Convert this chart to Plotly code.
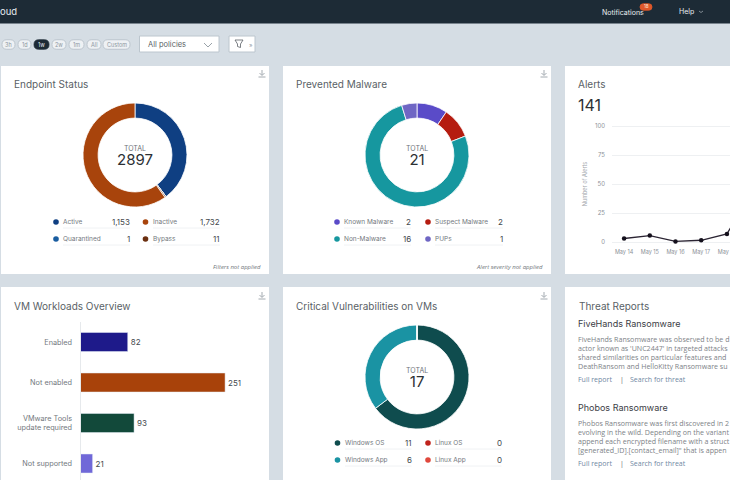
import plotly.graph_objects as go

W, H = 730, 480

# donut data
endpoint_labels = ["Active", "Quarantined", "Bypass", "Inactive"]
endpoint_values = [1153, 1, 11, 1732]
endpoint_colors = ["#0f3f82", "#1a5da0", "#6b2f10", "#a8440c"]

malware_labels = ["Known Malware", "Suspect Malware", "Non-Malware", "PUPs"]
malware_values = [2, 2, 16, 1]
malware_colors = ["#5a4bc8", "#b51c10", "#16979f", "#6f66c4"]

vuln_labels = ["Windows OS", "Windows App", "Linux OS", "Linux App"]
vuln_values = [11, 6, 0, 0]
vuln_colors = ["#0f4c4e", "#1a93a3", "#c0231c", "#e0483c"]

# alerts line
alert_days = ["May 14", "May 15", "May 16", "May 17", "May 18", "May 19"]
alert_counts = [3, 5.5, 0.5, 1.5, 7, 44]
alert_ticks = [0, 25, 50, 75, 100]

# vm workloads bars
vm_labels = ["Enabled", "Not enabled", "VMware Tools<br>update required", "Not supported"]
vm_values = [82, 251, 93, 21]
vm_colors = ["#1e1a8a", "#a8420a", "#12493a", "#7068d8"]

pill_labels = ["3h", "1d", "1w", "2w", "1m", "All", "Custom"]

five_hands_lines = [
    "FiveHands Ransomware was observed to be d",
    "actor known as 'UNC2447' in targeted attacks",
    "shared similarities on particular features and",
    "DeathRansom and HelloKitty Ransomware su",
]
phobos_lines = [
    "Phobos Ransomware was first discovered in 2",
    "evolving in the wild. Depending on the variant",
    "append each encrypted filename with a struct",
    "[generated_ID].[contact_email]\" that is appen",
]

TITLE_FONT = "Inter"
BODY_FONT = "Open Sans"


def px(x):
    return x / W


def py(y):
    return 1 - y / H


shapes = []
notes = []


def rect(x0, y0, x1, y1, fill, line=None):
    shapes.append(dict(type="rect", xref="paper", yref="paper", x0=px(x0), x1=px(x1),
                       y0=py(y1), y1=py(y0), fillcolor=fill, layer="below",
                       line=dict(color=line or fill, width=1 if line else 0)))


def dot(x, y, r, color):
    shapes.append(dict(type="circle", xref="paper", yref="paper", x0=px(x - r), x1=px(x + r),
                       y0=py(y + r), y1=py(y - r), fillcolor=color, line=dict(width=0)))


def pill(x0, x1, yc, h, fill, line):
    # rounded pill, built as an svg path in paper coords
    r = h / 2
    pts = [(x0 + r, yc - r), (x1 - r, yc - r), (x1, yc), (x1 - r, yc + r), (x0 + r, yc + r), (x0, yc)]
    p = [(px(a), py(b)) for a, b in pts]
    path = (f"M{p[0][0]},{p[0][1]} L{p[1][0]},{p[1][1]} Q{px(x1)},{py(yc - r)} {p[2][0]},{p[2][1]} "
            f"Q{px(x1)},{py(yc + r)} {p[3][0]},{p[3][1]} L{p[4][0]},{p[4][1]} "
            f"Q{px(x0)},{py(yc + r)} {p[5][0]},{p[5][1]} Q{px(x0)},{py(yc - r)} {p[0][0]},{p[0][1]} Z")
    shapes.append(dict(type="path", xref="paper", yref="paper", path=path, fillcolor=fill,
                       line=dict(color=line, width=0.8)))


def poly(points, color, width=1, fill=None):
    parts = [f"{'M' if i == 0 else 'L'}{px(a)},{py(b)}" for i, (a, b) in enumerate(points)]
    shapes.append(dict(type="path", xref="paper", yref="paper", path=" ".join(parts),
                       fillcolor=fill, line=dict(color=color, width=width)))


def text(x, y, s, size=8, color="#5a5f66", anchor="left", font=TITLE_FONT, **kw):
    # x/y is the full page axis in pixels
    notes.append(dict(xref="x", yref="y", x=x, y=y - 0.5, text=s, showarrow=False, borderpad=0, borderwidth=0,
                      xanchor=anchor, yanchor="middle", font=dict(family=font, size=size, color=color), **kw))


def donut_domain(cx, cy, r):
    return dict(x=[px(cx - r), px(cx + r)], y=[py(cy + r), py(cy - r)])


def add_legend(labels, values, colors, xs, ys):
    # 2x2 legend below a donut, order is left column then right column
    for i in range(4):
        col, row = i // 2, i % 2
        dot_x, label_x, value_x = xs[col]
        y = ys[row]
        dot(dot_x, y, 2.8, colors[i])
        text(label_x, y, labels[i], size=6.5, color="#73787e")
        text(value_x, y, f"{values[i]:,}", size=8, color="#44484d", anchor="right")
        poly([(label_x, y + 6), (value_x, y + 6)], "#eceff1", 0.8)


def download_icon(x, y):
    poly([(x, y - 4), (x, y + 1)], "#9aa1a8", 0.9)
    poly([(x - 2.5, y - 1), (x, y + 1.5), (x + 2.5, y - 1)], "#9aa1a8", 0.9)
    poly([(x - 3.5, y + 3), (x + 3.5, y + 3)], "#9aa1a8", 0.9)


fig = go.Figure()

# background
rect(0, 0, W, H, "#d5dde4")
rect(0, 0, W, 23.5, "#1d2b36")

# cards
for x0, y0, x1, y1 in [(1, 66, 269, 274), (283, 66, 551, 274), (565, 66, 735, 274),
                       (1, 287, 269, 485), (283, 287, 551, 485), (565, 287, 735, 485)]:
    rect(x0, y0, x1, y1, "#ffffff")

# top bar text
text(0, 11.5, "oud", size=9.5, color="#e8edf0")
text(602, 12.5, "Notifications", size=7, color="#e8edf0")
pill(640, 652, 7, 6.5, "#e0582a", "#e0582a")
text(646, 7, "18", size=4.5, color="#ffe6da", anchor="center")
text(679, 11.5, "Help", size=7, color="#e8edf0")
poly([(699, 11), (701, 12.5), (703, 11)], "#aab4bc", 0.7)

# time range pills
pill_spans = [(2, 15), (18, 31), (34, 49), (52, 66), (69, 84), (87, 101), (103, 130)]
for name, (x0, x1) in zip(pill_labels, pill_spans):
    active = name == "1w"
    pill(x0, x1, 44.5, 9.5, "#1d2b36" if active else "#eef1f4", "#1d2b36" if active else "#b4bec7")
    text((x0 + x1) / 2, 45, name, size=5.5, color="#e8edf0" if active else "#8d979f", anchor="center")

# policy dropdown and filter button
rect(139.5, 36, 219, 52, "#ffffff", "#bcc6ce")
text(148, 45, "All policies", size=7.5, color="#5a5f66")
poly([(204, 43), (208, 47), (212, 43)], "#8d979f", 0.9)
rect(229, 36, 255, 52, "#ffffff", "#bcc6ce")
poly([(235, 40), (243, 40), (240.5, 44), (240.5, 47.5), (237.5, 46.5), (237.5, 44), (235, 40)], "#5a5f66", 0.8)
text(251, 44.5, "»", size=6, color="#8d979f", anchor="center")

# card headings
text(14, 84.5, "Endpoint Status", size=10)
text(296, 84.5, "Prevented Malware", size=10)
text(578, 84.5, "Alerts", size=10)
text(578, 105.5, "141", size=16, color="#2c3034")
text(14, 306, "VM Workloads Overview", size=10)
text(296, 306, "Critical Vulnerabilities on VMs", size=10)
text(579, 306, "Threat Reports", size=10)
text(261, 267, "<i>Filters not applied</i>", size=6, anchor="right", color="#70757a", font=BODY_FONT)
text(543, 267, "<i>Alert severity not applied</i>", size=6, anchor="right", color="#70757a", font=BODY_FONT)
for ix, iy in [(262, 74), (544, 74), (262, 296), (544, 296)]:
    download_icon(ix, iy)

# donuts
donuts = [(endpoint_labels, endpoint_values, endpoint_colors, 135, 155, 52, "2897"),
          (malware_labels, malware_values, malware_colors, 417, 155, 52, "21"),
          (vuln_labels, vuln_values, vuln_colors, 417, 377, 52, "17")]
for labels, values, colors, cx, cy, r, total in donuts:
    fig.add_trace(go.Pie(labels=labels, values=values, sort=False, direction="clockwise", rotation=0,
                         hole=0.71, domain=donut_domain(cx, cy, r), textinfo="none", hoverinfo="label+value",
                         showlegend=False, marker=dict(colors=colors, line=dict(color="#ffffff", width=0.8))))
    # one annotation with two lines, the base size sets the line gap
    text(cx, cy + 1.5, f'<span style="font-size:7px;color:#6d7278">TOTAL</span><br><span style="font-size:15px">{total}</span>',
         size=11, color="#2c3034", anchor="center")

# legend order in the picture differs from the donut order
add_legend([endpoint_labels[i] for i in (0, 1, 3, 2)], [endpoint_values[i] for i in (0, 1, 3, 2)],
           [endpoint_colors[i] for i in (0, 1, 3, 2)], [(56, 63, 130), (145.5, 153, 220)], [222, 239])
add_legend([malware_labels[i] for i in (0, 2, 1, 3)], [malware_values[i] for i in (0, 2, 1, 3)],
           [malware_colors[i] for i in (0, 2, 1, 3)], [(337, 344, 411), (428, 435, 503)], [222, 239])
add_legend([vuln_labels[i] for i in (0, 1, 2, 3)], [vuln_values[i] for i in (0, 1, 2, 3)],
           [vuln_colors[i] for i in (0, 1, 2, 3)], [(337.5, 345, 411.5), (428, 435, 501.5)], [443, 460])

# alerts line
fig.add_trace(go.Scatter(x=alert_days, y=alert_counts, mode="lines+markers", xaxis="x2", yaxis="y2",
                         line=dict(color="#2b2433", width=1.3), marker=dict(color="#14101c", size=4.5),
                         showlegend=False))

# vm bars
fig.add_trace(go.Bar(x=vm_values, y=vm_labels, orientation="h", xaxis="x3", yaxis="y3", width=0.47,
                     marker=dict(color=vm_colors), text=vm_values, textposition="outside", cliponaxis=False,
                     textfont=dict(family=TITLE_FONT, size=8, color="#44484d"), showlegend=False))

# threat reports text
text(578, 324, "FiveHands Ransomware", size=9, color="#3c4046")
for i, line in enumerate(five_hands_lines):
    text(578, 339 + i * 9, line, size=7.1, color="#7d8287", font=BODY_FONT)
text(578, 408, "Phobos Ransomware", size=9, color="#3c4046")
for i, line in enumerate(phobos_lines):
    text(578, 423.5 + i * 9, line, size=7.1, color="#7d8287", font=BODY_FONT)
for y in (380, 464):
    text(578, y, "Full report", size=7, color="#6f88a3", font=BODY_FONT)
    text(622, y, "|", size=7, color="#5a5f66", anchor="center", font=BODY_FONT)
    text(630, y, "Search for threat", size=7, color="#6f88a3", font=BODY_FONT)

# automargin off everywhere, the default template turns it on and that squeezes the page
fig.update_layout(
    width=W, height=H, margin=dict(l=0, r=0, t=0, b=0), autosize=False,
    paper_bgcolor="#d5dde4", plot_bgcolor="rgba(0,0,0,0)", shapes=shapes, annotations=notes,
    font=dict(family=TITLE_FONT),
    xaxis=dict(domain=[0, 1], range=[0, W], visible=False, fixedrange=True, automargin=False),
    yaxis=dict(domain=[0, 1], range=[H, 0], visible=False, fixedrange=True, automargin=False),
    xaxis2=dict(domain=[px(612), 1], anchor="y2", type="category", categoryorder="array", automargin=False,
                categoryarray=alert_days, range=[-0.47, 4.12], showgrid=False, zeroline=False, showline=False,
                ticks="", ticklabelstandoff=3, tickfont=dict(size=5.5, color="#8d9298")),
    yaxis2=dict(domain=[py(244.32), py(123.68)], anchor="x2", range=[-2, 102], tickvals=alert_ticks,
                gridcolor="#eef0f2", gridwidth=0.8, zeroline=False, showline=False, ticklabelstandoff=6,
                automargin=False, tickfont=dict(size=6, color="#8d9298"),
                title=dict(text="Number of Alerts", font=dict(size=5.5, color="#a0a5aa"), standoff=7)),
    xaxis3=dict(domain=[px(80.5), px(80.5 + 0.576 * 300)], anchor="y3", range=[0, 300], visible=False,
                automargin=False),
    yaxis3=dict(domain=[0, py(322)], anchor="x3", type="category", categoryorder="array",
                categoryarray=vm_labels, range=[3.407, -0.494], showgrid=False, zeroline=False, automargin=False,
                showline=True, linecolor="#e6e9ec", linewidth=1, ticks="", ticklabelstandoff=6,
                tickfont=dict(family=TITLE_FONT, size=7.3, color="#73787e")),
)

fig.write_html("out.html", config={"displayModeBar": False}, post_script="document.body.style.margin='0';")
